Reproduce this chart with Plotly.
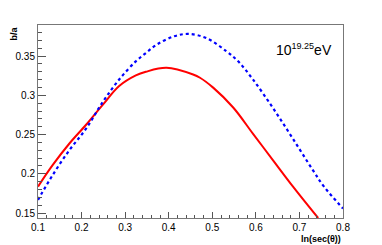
import plotly.graph_objects as go

# Red solid curve
red_x = [0.100, 0.1335, 0.1716, 0.2099, 0.248, 0.2863, 0.3245, 0.3475, 0.395, 0.456, 0.4718, 0.502, 0.548, 0.5936, 0.6395, 0.6853, 0.743]
red_y = [0.1837, 0.211, 0.2383, 0.2622, 0.2875, 0.3118, 0.3253, 0.330, 0.335, 0.3265, 0.3224, 0.3098, 0.2845, 0.2509, 0.2172, 0.1837, 0.1437]

# Blue dotted curve
blue_x = [0.100, 0.1335, 0.1716, 0.2099, 0.248, 0.2863, 0.3245, 0.3475, 0.372, 0.410, 0.4445, 0.4867, 0.5326, 0.5594, 0.5936, 0.6395, 0.6853, 0.7316, 0.756, 0.800]
blue_y = [0.1668, 0.1983, 0.2298, 0.2572, 0.2909, 0.3202, 0.3433, 0.3539, 0.3644, 0.3748, 0.3782, 0.3728, 0.356, 0.3433, 0.320, 0.2836, 0.2445, 0.204, 0.184, 0.1558]

x_ticks = [0.1, 0.2, 0.3, 0.4, 0.5, 0.6, 0.7, 0.8]
x_labels = ["0.1", "0.2", "0.3", "0.4", "0.5", "0.6", "0.7", "0.8"]
y_ticks = [0.15, 0.2, 0.25, 0.3, 0.35]
y_labels = ["0.15", "0.2", "0.25", "0.3", "0.35"]

fig = go.Figure()
fig.add_trace(go.Scatter(x=red_x, y=red_y, mode="lines", line=dict(color="#ff0000", width=2, shape="spline"), showlegend=False))
fig.add_trace(go.Scatter(x=blue_x, y=blue_y, mode="lines", line=dict(color="#0000ff", width=2.2, dash="dot", shape="spline"), showlegend=False))

tickfont = dict(family="Liberation Sans", size=10, color="black")
fig.update_layout(
    width=382, height=245,
    margin=dict(l=38, r=39, t=25, b=25),
    paper_bgcolor="white", plot_bgcolor="white",
    xaxis=dict(range=[0.1, 0.8], tickvals=x_ticks, ticktext=x_labels, ticks="inside", ticklen=6,
               tickcolor="#555", tickwidth=1, showgrid=False, zeroline=False, showline=True,
               linecolor="#777", linewidth=1, mirror=True, tickfont=tickfont, ticklabelstandoff=0,
               minor=dict(dtick=0.02, ticks="inside", ticklen=3, tickcolor="#555", showgrid=False)),
    yaxis=dict(range=[0.1437, 0.3896], tickvals=y_ticks, ticktext=y_labels, ticks="inside", ticklen=8,
               tickcolor="#555", tickwidth=1, showgrid=False, zeroline=False, showline=True,
               linecolor="#777", linewidth=1, mirror=True, tickfont=tickfont,
               minor=dict(dtick=0.01, ticks="inside", ticklen=4, tickcolor="#555", showgrid=False)),
)
fig.add_annotation(text="<b>b/a</b>", xref="paper", yref="paper", x=-0.08, y=1.0, xanchor="center", yanchor="top",
                   textangle=-90, showarrow=False, font=dict(family="Liberation Sans", size=9, color="black"))
fig.add_annotation(text="<b>ln(sec(θ))</b>", xref="paper", yref="paper", x=1.0, y=-0.075, xanchor="right", yanchor="top",
                   showarrow=False, font=dict(family="Liberation Sans", size=9, color="black"))
fig.add_annotation(text="10<sup><span style='font-size:9px'>19.25</span></sup>eV", xref="paper", yref="paper",
                   x=0.969, y=0.925, xanchor="right", yanchor="top",
                   showarrow=False, font=dict(family="Liberation Sans", size=14, color="black"))

fig.write_html("out.html", post_script="document.body.style.margin='0';", config={"displayModeBar": False})
